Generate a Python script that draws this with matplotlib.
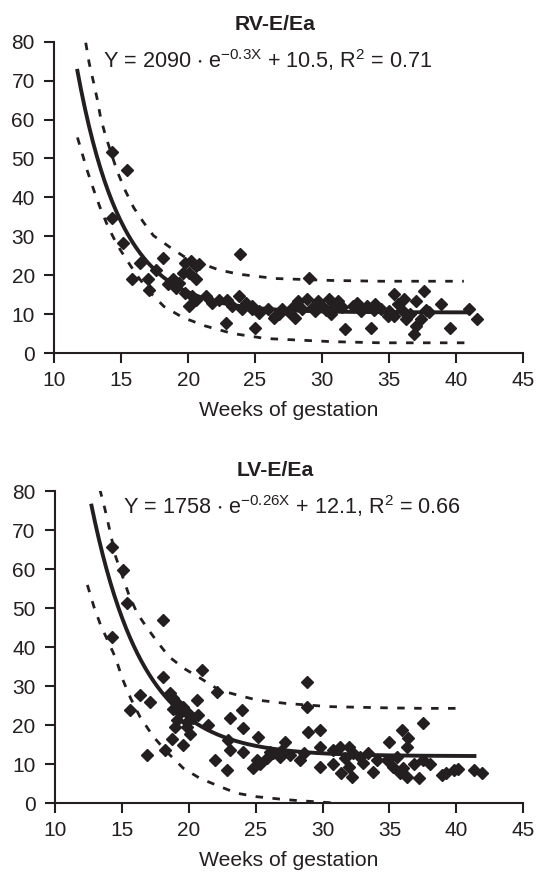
import numpy as np
import matplotlib
matplotlib.use("Agg")
from matplotlib import pyplot as plt

plt.rcParams['font.family'] = ['Liberation Sans', 'DejaVu Sans']
plt.rcParams['mathtext.fontset'] = 'custom'
plt.rcParams['mathtext.rm'] = 'Liberation Sans'
plt.rcParams['mathtext.default'] = 'regular'

ink = '#231f20'

# ---- RV-E/Ea data ----
rv_x = [14.3, 15.4, 14.3, 15.1, 23.9, 16.4, 18.1, 15.8, 17.0, 17.1, 17.6, 19.8, 20.2, 20.6,
        20.8, 19.6, 20.1, 20.6, 18.9, 18.5, 19.3, 19.1, 19.8, 20.3, 20.1, 20.6, 21.3, 21.8,
        22.3, 22.9, 23.3, 23.8, 24.0, 24.3, 24.8, 25.3, 26.0, 26.5, 27.0, 22.8, 25.0, 29.0,
        24.8, 25.3, 26.4, 28.0, 28.2, 28.9, 29.7, 30.5, 31.2, 30.7, 31.7, 32.3, 32.9, 33.4,
        33.7, 34.4, 34.9, 35.4, 35.7, 36.1, 35.4, 36.3, 37.0, 37.4, 36.9, 37.6, 37.0, 38.9,
        39.6, 41.0, 41.6, 31.0, 27.5, 28.5, 29.3, 30.0, 33.9, 36.6, 38.0,
        26.8, 27.8, 29.5, 30.3, 31.5, 32.6, 34.0, 35.0, 36.0, 37.8]
rv_y = [51.7, 47.0, 34.8, 28.4, 25.6, 23.2, 24.5, 19.0, 19.0, 16.2, 21.5, 23.3, 23.7, 22.4,
        22.8, 20.7, 20.7, 19.0, 19.0, 17.7, 18.1, 16.8, 15.6, 14.7, 12.1, 13.8, 14.7, 13.0,
        13.8, 13.8, 12.1, 14.7, 11.3, 13.0, 12.1, 10.4, 11.3, 9.6, 11.3, 7.9, 6.6, 19.4,
        11.3, 10.9, 9.1, 9.1, 13.4, 13.9, 13.4, 13.9, 13.4, 10.0, 6.2, 12.1, 10.9, 12.1,
        6.6, 11.3, 9.6, 15.1, 12.6, 13.9, 9.6, 8.7, 13.4, 8.7, 4.9, 16.0, 7.0, 12.6,
        6.6, 11.3, 8.7, 12.1, 10.5, 11.5, 11.8, 12.2, 11.0, 10.2, 10.5,
        10.2, 11.8, 10.8, 11.0, 11.8, 12.8, 12.6, 10.8, 11.0, 11.2]
rv_fit = (2090, -0.3, 10.5, 11.7, 41.0)   # a, b, c, x start, x end
rv_up_x = [12.35, 12.6, 12.91, 13.21, 13.46, 13.83, 14.69, 15.31, 15.93, 16.67, 17.41, 18.65,
           19.84, 22.3, 23.8, 26.5, 30.7, 34.4, 40.6]
rv_up_y = [79.7, 74.6, 69.9, 65.2, 60.5, 55.8, 46.8, 41.7, 37.4, 33.6, 30.2, 27.2,
           24.5, 21.4, 20.3, 19.2, 18.7, 18.5, 18.5]
rv_lo_x = [11.73, 12.1, 12.47, 12.97, 13.4, 14.0, 14.7, 15.5, 16.2, 17.1, 18.2, 19.6, 21.3,
           23.3, 25.8, 30.7, 34.4, 41.1]
rv_lo_y = [55.4, 51.1, 46.8, 41.7, 37.6, 32.6, 27.8, 23.5, 19.9, 15.8, 12.0, 9.2, 7.0,
           5.1, 3.8, 3.0, 2.7, 2.7]

# ---- LV-E/Ea data ----
lv_x = [14.24, 15.11, 15.36, 14.24, 18.1, 20.96, 18.1, 22.08, 16.35, 17.1, 15.6, 18.6, 18.84,
        19.09, 18.84, 19.34, 19.59, 19.97, 20.6, 20.71, 19.09, 19.84, 20.09, 18.97, 21.46,
        19.59, 18.72, 18.22, 16.85, 23.08, 23.95, 24.08, 25.2, 22.95, 23.08, 24.08, 21.96,
        22.83, 24.8, 25.32, 25.82, 26.32, 26.8, 26.9, 27.2, 20.34, 19.84,
        28.8, 28.8, 28.93, 29.8, 29.8, 29.8, 28.3, 28.6, 30.8, 31.3, 30.8, 31.4, 32.0, 32.3,
        32.0, 32.2, 32.8, 33.4, 33.8, 34.04, 35.0, 34.8, 35.3, 35.9, 36.4, 36.3, 35.8, 36.3,
        37.2, 37.5, 37.5, 38.0, 38.9, 39.8, 41.3, 41.9, 36.8, 25.07, 26.1, 27.6, 31.7, 33.0,
        35.6, 36.0, 39.2, 40.1]
lv_y = [65.6, 59.8, 51.4, 42.7, 47.0, 34.2, 32.5, 28.6, 27.8, 26.0, 23.9, 28.2, 26.9,
        25.6, 24.3, 23.1, 24.8, 23.1, 26.5, 22.6, 21.3, 20.9, 17.9, 19.6, 20.1,
        14.9, 16.6, 13.8, 12.4, 21.8, 23.9, 19.2, 17.1, 16.2, 13.7, 13.2, 11.1,
        8.5, 9.0, 10.2, 11.5, 12.8, 11.9, 13.5, 15.8, 21.8, 19.6,
        31.0, 24.6, 18.4, 18.8, 14.5, 9.4, 11.1, 12.8, 13.7, 14.5, 10.2, 7.7, 14.5, 12.8,
        9.4, 6.8, 12.0, 12.8, 8.1, 11.1, 15.8, 11.1, 9.4, 18.8, 16.7, 14.5, 7.7, 6.8,
        6.4, 20.5, 11.1, 10.2, 7.3, 8.5, 8.5, 7.9, 10.2, 11.1, 13.2, 12.3, 11.5, 10.3,
        11.8, 9.0, 7.8, 8.7]
lv_fit = (1758, -0.26, 12.1, 12.7, 41.5)
lv_up_x = [13.35, 13.66, 13.91, 14.54, 15.53, 16.15, 16.9, 17.65, 18.52, 19.64, 20.9, 22.3,
           23.6, 25.07, 27.3, 30.5, 34.5, 37.5, 40.5]
lv_up_y = [80.5, 76.5, 72.8, 63.2, 53.4, 48.7, 44.9, 41.4, 37.6, 34.6, 32.0, 29.0,
           27.8, 26.5, 25.6, 24.8, 24.5, 24.35, 24.35]
lv_lo_x = [12.42, 12.91, 13.41, 14.0, 14.54, 15.03, 15.66, 16.35, 17.35, 18.35, 19.59, 20.84,
           22.33, 23.58, 25.07, 26.8, 27.8, 29.5, 31.3]
lv_lo_y = [56.0, 50.4, 45.7, 41.3, 37.2, 32.0, 26.9, 22.2, 17.1, 13.2, 9.0, 6.4,
           4.3, 2.6, 1.7, 1.1, 0.8, 0.4, 0.0]

fig = plt.figure(figsize=(5.37, 8.75), dpi=100)
ax1 = fig.add_axes([0.1011, 0.5962, 0.8723, 0.3563])
ax2 = fig.add_axes([0.1024, 0.0819, 0.872, 0.3566])


def draw(ax, xs, ys, fit, ux, uy, lx, ly):
    a, b, c, x0, x1 = fit
    fx = np.linspace(x0, x1, 300)
    ax.plot(fx, a * np.exp(b * fx) + c, color=ink, lw=2.8, solid_capstyle='butt')
    ax.plot(ux, uy, color=ink, lw=2.0, ls=(0, (2.7, 3.4)))
    ax.plot(lx, ly, color=ink, lw=2.0, ls=(0, (2.7, 3.4)))
    ax.plot(xs, ys, ls='none', marker='D', ms=6.0, color=ink, mec=ink, zorder=5)
    ax.set_xlim(10, 45)
    ax.set_ylim(0, 80)
    ax.set_xticks(range(10, 46, 5))
    ax.set_yticks(range(0, 81, 10))
    for s in ['top', 'right']:
        ax.spines[s].set_visible(False)
    for s in ['left', 'bottom']:
        ax.spines[s].set_linewidth(1.5)
        ax.spines[s].set_color(ink)
    ax.tick_params(direction='out', length=7.5, width=1.5, colors=ink, labelsize=15)
    ax.tick_params(axis='x', pad=5.5)
    ax.tick_params(axis='y', pad=6.5)
    ax.set_xlabel('Weeks of gestation', fontsize=15.2, color=ink, labelpad=7.5)


draw(ax1, rv_x, rv_y, rv_fit, rv_up_x, rv_up_y, rv_lo_x, rv_lo_y)
draw(ax2, lv_x, lv_y, lv_fit, lv_up_x, lv_up_y, lv_lo_x, lv_lo_y)

fig.text(275 / 537, 1 - 24 / 875, 'RV-E/Ea', ha='center', va='center',
         fontsize=15.2, fontweight='bold', color=ink)
fig.text(103 / 537, 1 - 60 / 875,
         r'Y = 2090 $\cdot$ e$^{\minus0.3X}$ + 10.5, R$^2$ = 0.71',
         ha='left', va='center', fontsize=15.6, color=ink)
fig.text(275 / 537, 1 - 471 / 875, 'LV-E/Ea', ha='center', va='center',
         fontsize=15.2, fontweight='bold', color=ink)
fig.text(123 / 537, 1 - 506 / 875,
         r'Y = 1758 $\cdot$ e$^{\minus0.26X}$ + 12.1, R$^2$ = 0.66',
         ha='left', va='center', fontsize=15.6, color=ink)

fig.savefig('out.png', dpi=100)
